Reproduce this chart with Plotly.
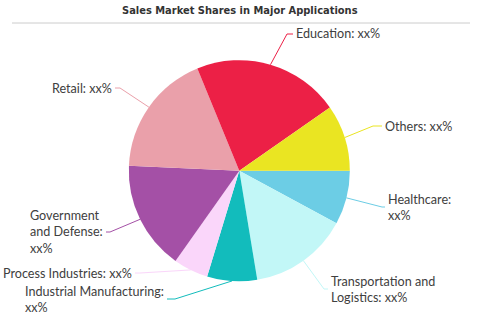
import math
import plotly.graph_objects as go

# ---- data ----
categories = ["Healthcare", "Transportation and Logistics", "Industrial Manufacturing",
              "Process Industries", "Government and Defense", "Retail", "Education", "Others"]
shares = [7.9, 14.5, 7.3, 5.1, 15.9, 18.1, 21.5, 9.7]
label_texts = ["Healthcare:<br>xx%", "Transportation and<br>Logistics: xx%",
               "Industrial Manufacturing:<br>xx%", "Process Industries: xx%",
               "Government<br>and Defense:<br>xx%", "Retail: xx%", "Education: xx%", "Others: xx%"]
title_text = "Sales Market Shares in Major Applications"

# ---- style / layout ----
colors = ["#6CCDE5", "#C2F7F7", "#12BCBC", "#FAD6FA", "#A450A6", "#EAA0AA", "#EC2046", "#EAE522"]
W, H = 480, 320
CX, CY, R = 239.3, 170.7, 110.5
# (elbow_x, elbow_y, text_x, side) in pixels
label_layout = [
    (382, 207, 386, "left"),
    (324, 289, 329, "left"),
    (175, 299, 166, "right"),
    (140, 273, 134, "right"),
    (110, 232, 105, "right"),
    (120, 88, 114, "right"),
    (287, 34, 294, "left"),
    (373, 126, 383, "left"),
]
FONT = "Lato, 'Open Sans', sans-serif"

def px(x):
    return x / W

def py(y):
    return 1 - y / H

fig = go.Figure(go.Pie(
    labels=categories, values=shares, sort=False, direction="clockwise",
    rotation=90, marker=dict(colors=colors, line=dict(width=0)),
    textinfo="none", hoverinfo="label+percent",
    domain=dict(x=[px(CX - R), px(CX + R)], y=[py(CY + R), py(CY - R)]),
    showlegend=False,
))

shapes = []
annotations = []
total = sum(shares)
cum = 0.0
for cat, v, txt, col, (ex, ey, tx, side) in zip(categories, shares, label_texts, colors, label_layout):
    mid = (cum + v / 2) / total * 2 * math.pi
    cum += v
    sx = CX + R * math.cos(mid)
    sy = CY + R * math.sin(mid)
    end_x = tx - 1 if side == "left" else tx + 1
    shapes.append(dict(type="path", xref="paper", yref="paper",
                       path=f"M {px(sx)} {py(sy)} L {px(ex)} {py(ey)} L {px(end_x)} {py(ey)}",
                       line=dict(color=col, width=1)))
    annotations.append(dict(x=px(tx), y=py(ey), xref="paper", yref="paper", text=txt,
                            showarrow=False, xanchor=side, yanchor="middle", align="left",
                            font=dict(family=FONT, size=12.6, color="#404040")))

annotations.append(dict(x=0.5, y=py(10), xref="paper", yref="paper", text=f"<b>{title_text}</b>",
                        showarrow=False, xanchor="center", yanchor="middle",
                        font=dict(family="'Liberation Sans Narrow', 'DejaVu Sans Condensed', sans-serif",
                                  size=11, color="#333333")))
shapes.append(dict(type="line", xref="paper", yref="paper", x0=px(12), x1=px(470), y0=py(23), y1=py(23),
                   line=dict(color="#cccccc", width=1)))

fig.update_layout(width=W, height=H, margin=dict(l=0, r=0, t=0, b=0),
                  paper_bgcolor="white", plot_bgcolor="white",
                  shapes=shapes, annotations=annotations)
fig.write_html("out.html")
